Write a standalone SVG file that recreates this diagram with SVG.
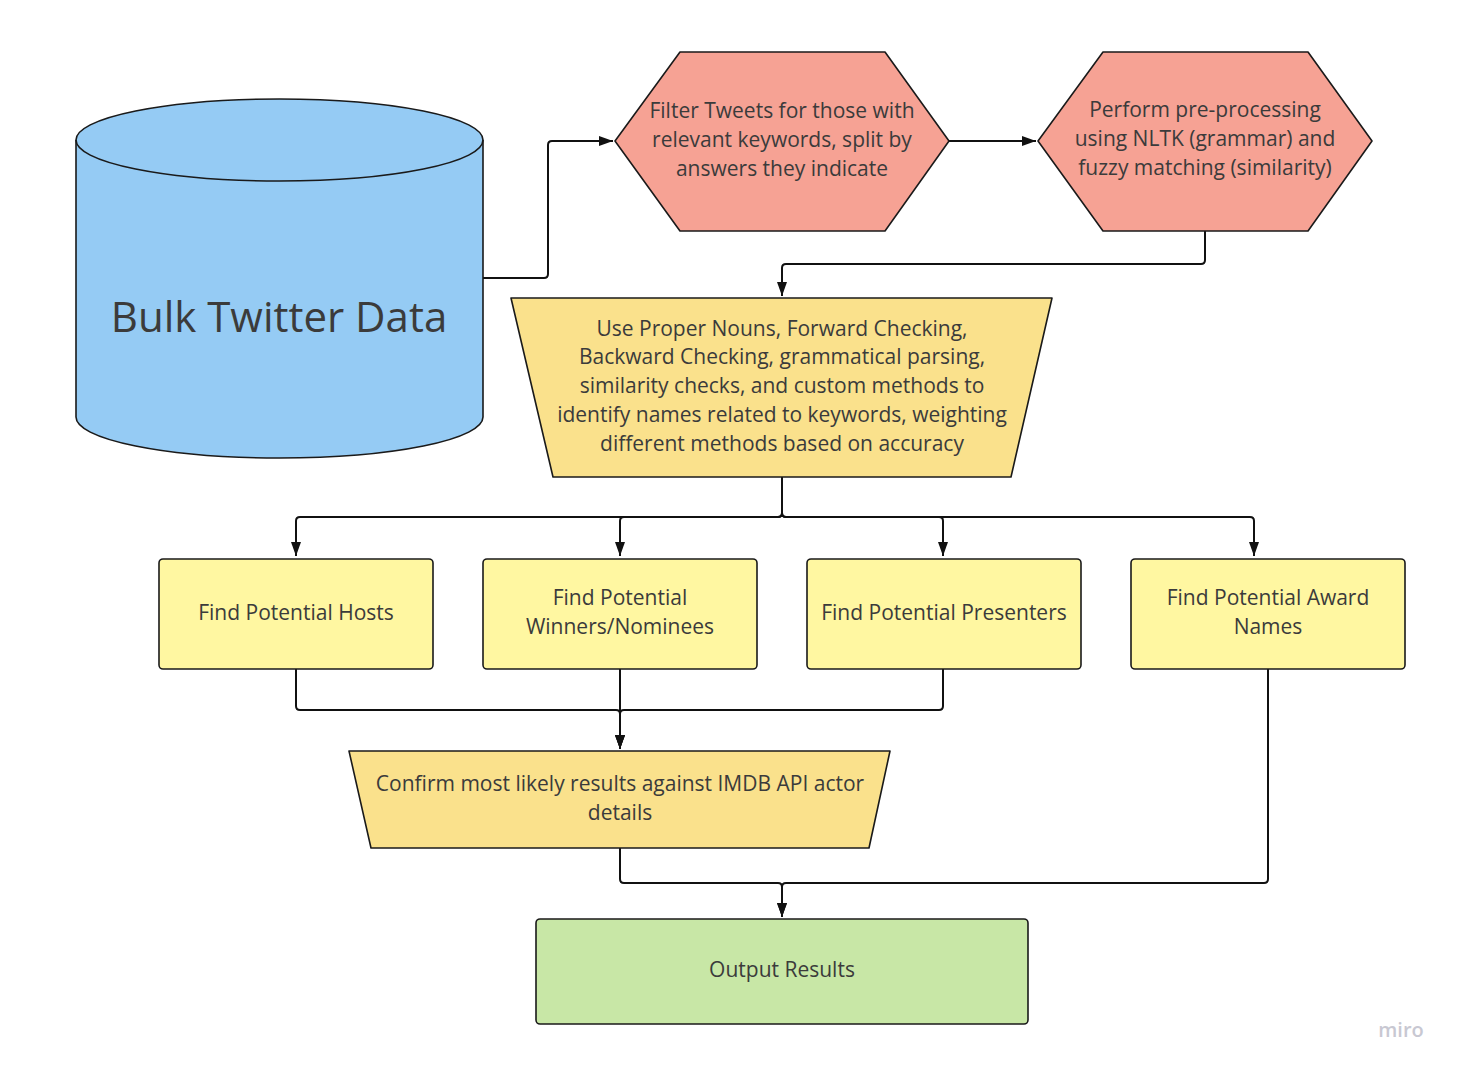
<svg xmlns="http://www.w3.org/2000/svg" width="1458" height="1071" viewBox="0 0 1458 1071">
<style>
.n{stroke:#1a1a1a;stroke-width:1.6;stroke-linejoin:round}
.t{font-family:"Open Sans","Liberation Sans",sans-serif;font-size:21px;fill:#3b3b3b;text-anchor:middle}
.c{fill:none;stroke:#111;stroke-width:2;stroke-linejoin:round}
</style>
<defs>
<marker id="a" viewBox="0 0 14 10" refX="14" refY="5" markerWidth="14" markerHeight="10" markerUnits="userSpaceOnUse" orient="auto">
<path d="M0,0 L14,5 L0,10 Z" fill="#111"/>
</marker>
</defs>
<rect width="1458" height="1071" fill="#fff"/>
<g id="connectors">
<path class="c" d="M483,278 H544 Q548,278 548,274 V145 Q548,141 552,141 H613" marker-end="url(#a)"/>
<path class="c" d="M949,141 H1036" marker-end="url(#a)"/>
<path class="c" d="M1205,231 V260 Q1205,264 1201,264 H786 Q782,264 782,268 V296" marker-end="url(#a)"/>
<path class="c" d="M782,477 V517 M782,513 Q782,517 778,517 H300 Q296,517 296,521 V556" marker-end="url(#a)"/>
<path class="c" d="M782,513 Q782,517 778,517 H624 Q620,517 620,521 V556" marker-end="url(#a)"/>
<path class="c" d="M782,513 Q782,517 786,517 H939 Q943,517 943,521 V556" marker-end="url(#a)"/>
<path class="c" d="M782,513 Q782,517 786,517 H1250 Q1254,517 1254,521 V556" marker-end="url(#a)"/>
<path class="c" d="M296,669 V706 Q296,710 300,710 H616 Q620,710 620,714 V749" marker-end="url(#a)"/>
<path class="c" d="M620,669 V749" marker-end="url(#a)"/>
<path class="c" d="M943,669 V706 Q943,710 939,710 H624 Q620,710 620,714 V749" marker-end="url(#a)"/>
<path class="c" d="M620,848 V879 Q620,883 624,883 H778 Q782,883 782,887 V917" marker-end="url(#a)"/>
<path class="c" d="M1268,669 V879 Q1268,883 1264,883 H786 Q782,883 782,887 V917" marker-end="url(#a)"/>
</g>
<g id="bulk">
<path class="n" fill="#95cbf4" d="M76,140 A203.5,41 0 0 1 483,140 V417 A203.5,41 0 0 1 76,417 Z"/>
<path fill="none" class="n" d="M76,140 A203.5,41 0 0 0 483,140"/>
<text x="279" y="332" class="t" style="font-size:42px">Bulk Twitter Data</text>
</g>
<g id="filter">
<path class="n" fill="#f6a294" d="M615,141 L680,52 H885 L949,141 L885,231 H680 Z"/>
<text class="t" x="782" y="118">Filter Tweets for those with</text>
<text class="t" x="782" y="147">relevant keywords, split by</text>
<text class="t" x="782" y="176">answers they indicate</text>
</g>
<g id="preprocess">
<path class="n" fill="#f6a294" d="M1038,141 L1103,52 H1308 L1372,141 L1308,231 H1103 Z"/>
<text class="t" x="1205" y="117">Perform pre-processing</text>
<text class="t" x="1205" y="146">using NLTK (grammar) and</text>
<text class="t" x="1205" y="175">fuzzy matching (similarity)</text>
</g>
<g id="methods">
<path class="n" fill="#fae18c" d="M511,298 H1052 L1011,477 H553 Z"/>
<text class="t" x="782" y="336">Use Proper Nouns, Forward Checking,</text>
<text class="t" x="782" y="364">Backward Checking, grammatical parsing,</text>
<text class="t" x="782" y="393">similarity checks, and custom methods to</text>
<text class="t" x="782" y="422">identify names related to keywords, weighting</text>
<text class="t" x="782" y="451">different methods based on accuracy</text>
</g>
<g id="hosts">
<rect class="n" fill="#fff7a1" x="159" y="559" width="274" height="110" rx="4"/>
<text class="t" x="296" y="620">Find Potential Hosts</text>
</g>
<g id="winners">
<rect class="n" fill="#fff7a1" x="483" y="559" width="274" height="110" rx="4"/>
<text class="t" x="620" y="605">Find Potential</text>
<text class="t" x="620" y="634">Winners/Nominees</text>
</g>
<g id="presenters">
<rect class="n" fill="#fff7a1" x="807" y="559" width="274" height="110" rx="4"/>
<text class="t" x="944" y="620">Find Potential Presenters</text>
</g>
<g id="awards">
<rect class="n" fill="#fff7a1" x="1131" y="559" width="274" height="110" rx="4"/>
<text class="t" x="1268" y="605">Find Potential Award</text>
<text class="t" x="1268" y="634">Names</text>
</g>
<g id="confirm">
<path class="n" fill="#fae18c" d="M349,751 H890 L869,848 H371 Z"/>
<text class="t" x="620" y="791">Confirm most likely results against IMDB API actor</text>
<text class="t" x="620" y="820">details</text>
</g>
<g id="output">
<rect class="n" fill="#c8e7a6" x="536" y="919" width="492" height="105" rx="4"/>
<text class="t" x="782" y="977">Output Results</text>
</g>
<text x="1401" y="1037" style="font-family:'Open Sans','Liberation Sans',sans-serif;font-size:20px;font-weight:600;fill:#c8c8d2;text-anchor:middle">miro</text>
</svg>
